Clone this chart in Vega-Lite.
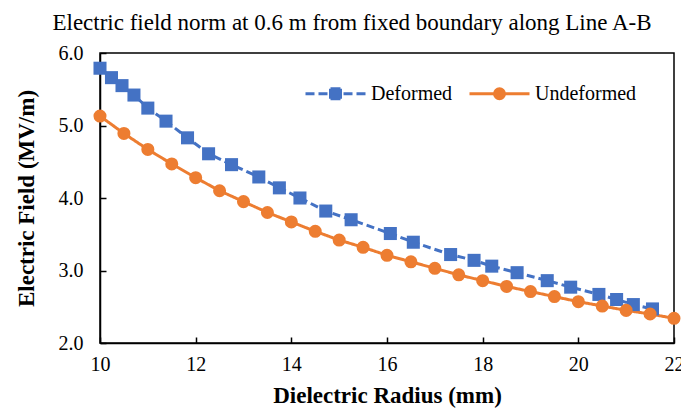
{
  "$schema": "https://vega.github.io/schema/vega-lite/v6.json",
  "width": 574,
  "height": 290,
  "autosize": "none",
  "padding": {"left": 100, "top": 53, "right": 7, "bottom": 68},
  "title": {
    "text": "Electric field norm at 0.6 m from fixed boundary along Line A-B",
    "font": "Liberation Serif",
    "fontSize": 23,
    "fontWeight": "normal",
    "color": "#000000",
    "anchor": "middle",
    "dx": -35,
    "offset": 8
  },
  "config": {
    "view": {"stroke": "#000000", "strokeWidth": 1.5},
    "style": {"guide-label": {"font": "Liberation Serif", "fontSize": 20, "fill": "#000000"}},
    "axis": {
      "labelFont": "Liberation Serif",
      "labelFontSize": 20,
      "labelColor": "#000000",
      "titleFont": "Liberation Serif",
      "titleFontSize": 23,
      "titleFontWeight": "bold",
      "titleColor": "#000000",
      "domainColor": "#000000",
      "domainWidth": 1.5,
      "tickColor": "#000000",
      "tickWidth": 1.5,
      "tickSize": -6,
      "grid": false,
      "labelFlush": false,
      "labelOverlap": false
    },
    "axisQuantitative": {"labelFont": "Liberation Serif"}
  },
  "data": {
    "values": [
      {"series": "Deformed", "r": 10.0, "e": 5.79},
      {"series": "Deformed", "r": 10.24, "e": 5.66},
      {"series": "Deformed", "r": 10.46, "e": 5.55},
      {"series": "Deformed", "r": 10.71, "e": 5.42},
      {"series": "Deformed", "r": 11.0, "e": 5.24},
      {"series": "Deformed", "r": 11.38, "e": 5.06},
      {"series": "Deformed", "r": 11.83, "e": 4.83},
      {"series": "Deformed", "r": 12.27, "e": 4.61},
      {"series": "Deformed", "r": 12.75, "e": 4.46},
      {"series": "Deformed", "r": 13.32, "e": 4.29},
      {"series": "Deformed", "r": 13.75, "e": 4.14},
      {"series": "Deformed", "r": 14.18, "e": 4.0},
      {"series": "Deformed", "r": 14.72, "e": 3.82},
      {"series": "Deformed", "r": 15.25, "e": 3.7},
      {"series": "Deformed", "r": 16.07, "e": 3.51},
      {"series": "Deformed", "r": 16.55, "e": 3.39},
      {"series": "Deformed", "r": 17.33, "e": 3.22},
      {"series": "Deformed", "r": 17.82, "e": 3.14},
      {"series": "Deformed", "r": 18.19, "e": 3.06},
      {"series": "Deformed", "r": 18.72, "e": 2.97},
      {"series": "Deformed", "r": 19.35, "e": 2.86},
      {"series": "Deformed", "r": 19.84, "e": 2.77},
      {"series": "Deformed", "r": 20.43, "e": 2.67},
      {"series": "Deformed", "r": 20.8, "e": 2.6},
      {"series": "Deformed", "r": 21.15, "e": 2.53},
      {"series": "Deformed", "r": 21.55, "e": 2.47},
      {"series": "Undeformed", "r": 10.0, "e": 5.13},
      {"series": "Undeformed", "r": 10.5, "e": 4.89},
      {"series": "Undeformed", "r": 11.0, "e": 4.67},
      {"series": "Undeformed", "r": 11.5, "e": 4.47},
      {"series": "Undeformed", "r": 12.0, "e": 4.28},
      {"series": "Undeformed", "r": 12.5, "e": 4.1},
      {"series": "Undeformed", "r": 13.0, "e": 3.95},
      {"series": "Undeformed", "r": 13.5, "e": 3.8},
      {"series": "Undeformed", "r": 14.0, "e": 3.67},
      {"series": "Undeformed", "r": 14.5, "e": 3.54},
      {"series": "Undeformed", "r": 15.0, "e": 3.42},
      {"series": "Undeformed", "r": 15.5, "e": 3.32},
      {"series": "Undeformed", "r": 16.0, "e": 3.21},
      {"series": "Undeformed", "r": 16.5, "e": 3.12},
      {"series": "Undeformed", "r": 17.0, "e": 3.03},
      {"series": "Undeformed", "r": 17.5, "e": 2.94},
      {"series": "Undeformed", "r": 18.0, "e": 2.86},
      {"series": "Undeformed", "r": 18.5, "e": 2.78},
      {"series": "Undeformed", "r": 19.0, "e": 2.71},
      {"series": "Undeformed", "r": 19.5, "e": 2.64},
      {"series": "Undeformed", "r": 20.0, "e": 2.57},
      {"series": "Undeformed", "r": 20.5, "e": 2.51},
      {"series": "Undeformed", "r": 21.0, "e": 2.45},
      {"series": "Undeformed", "r": 21.5, "e": 2.4},
      {"series": "Undeformed", "r": 22.0, "e": 2.34}
    ]
  },
  "encoding": {
    "x": {
      "field": "r",
      "type": "quantitative",
      "scale": {"domain": [10, 22], "nice": false, "zero": false},
      "axis": {"title": "Dielectric Radius (mm)", "values": [10, 12, 14, 16, 18, 20, 22], "format": "d", "labelFont": "Liberation Serif", "labelPadding": 17, "titlePadding": 10, "encode": {"labels": {"font": {"value": "Liberation Serif"}}}}
    },
    "y": {
      "field": "e",
      "type": "quantitative",
      "scale": {"domain": [2, 6], "nice": false, "zero": false},
      "axis": {"title": "Electric Field (MV/m)", "values": [2, 3, 4, 5, 6], "format": ".1f", "labelFont": "Liberation Serif", "labelPadding": 23, "titlePadding": 20, "encode": {"labels": {"font": {"value": "Liberation Serif"}}}}
    }
  },
  "resolve": {
    "scale": {"shape": "independent"},
    "legend": {"color": "independent", "shape": "independent"}
  },
  "layer": [
    {
      "mark": {"type": "line", "strokeWidth": 3},
      "encoding": {
        "color": {
          "field": "series",
          "type": "nominal",
          "scale": {"domain": ["Deformed", "Undeformed"], "range": ["#4472C4", "#ED7D31"]},
          "legend": null
        },
        "strokeDash": {
          "field": "series",
          "type": "nominal",
          "scale": {"domain": ["Deformed", "Undeformed"], "range": [[8, 4], [1, 0]]},
          "legend": null
        }
      }
    },
    {
      "mark": {"type": "point", "filled": true, "opacity": 1, "size": 170},
      "encoding": {
        "color": {"field": "series", "type": "nominal", "legend": null},
        "shape": {
          "field": "series",
          "type": "nominal",
          "scale": {"domain": ["Deformed", "Undeformed"], "range": ["square", "circle"]},
          "legend": null
        }
      }
    },
    {
      "transform": [{"filter": "false"}],
      "mark": {"type": "point", "filled": false},
      "encoding": {
        "color": {
          "field": "series",
          "type": "nominal",
          "legend": {
            "orient": "none", "legendX": 224, "legendY": 29, "direction": "horizontal", "title": null, "padding": 0,
            "labelFont": "Liberation Serif", "labelFontSize": 20, "labelColor": "#000000",
            "symbolSize": 400, "symbolStrokeWidth": 3, "symbolOpacity": 1, "labelOffset": 24, "columnPadding": 10
          }
        },
        "shape": {
          "field": "series",
          "type": "nominal",
          "scale": {
            "domain": ["Deformed", "Undeformed"],
            "range": [
              "M-3,0H-2.1M-1.7,0H-0.8M0.8,0H1.7M2.1,0H3M-0.5,-0.5H0.5M-0.5,-0.25H0.5M-0.5,0H0.5M-0.5,0.25H0.5M-0.5,0.5H0.5M-0.5,-0.5V0.5M0.5,-0.5V0.5",
              "M-3,0H3M0.5,0A0.5,0.5 0 1,1 -0.5,0A0.5,0.5 0 1,1 0.5,0M0.2,0A0.2,0.2 0 1,1 -0.2,0A0.2,0.2 0 1,1 0.2,0"
            ]
          },
          "legend": {
            "orient": "none", "legendX": 224, "legendY": 29, "direction": "horizontal", "title": null, "padding": 0,
            "labelFont": "Liberation Serif", "labelFontSize": 20, "labelColor": "#000000",
            "symbolSize": 400, "symbolStrokeWidth": 3, "symbolOpacity": 1, "labelOffset": 24, "columnPadding": 10
          }
        }
      }
    }
  ]
}
